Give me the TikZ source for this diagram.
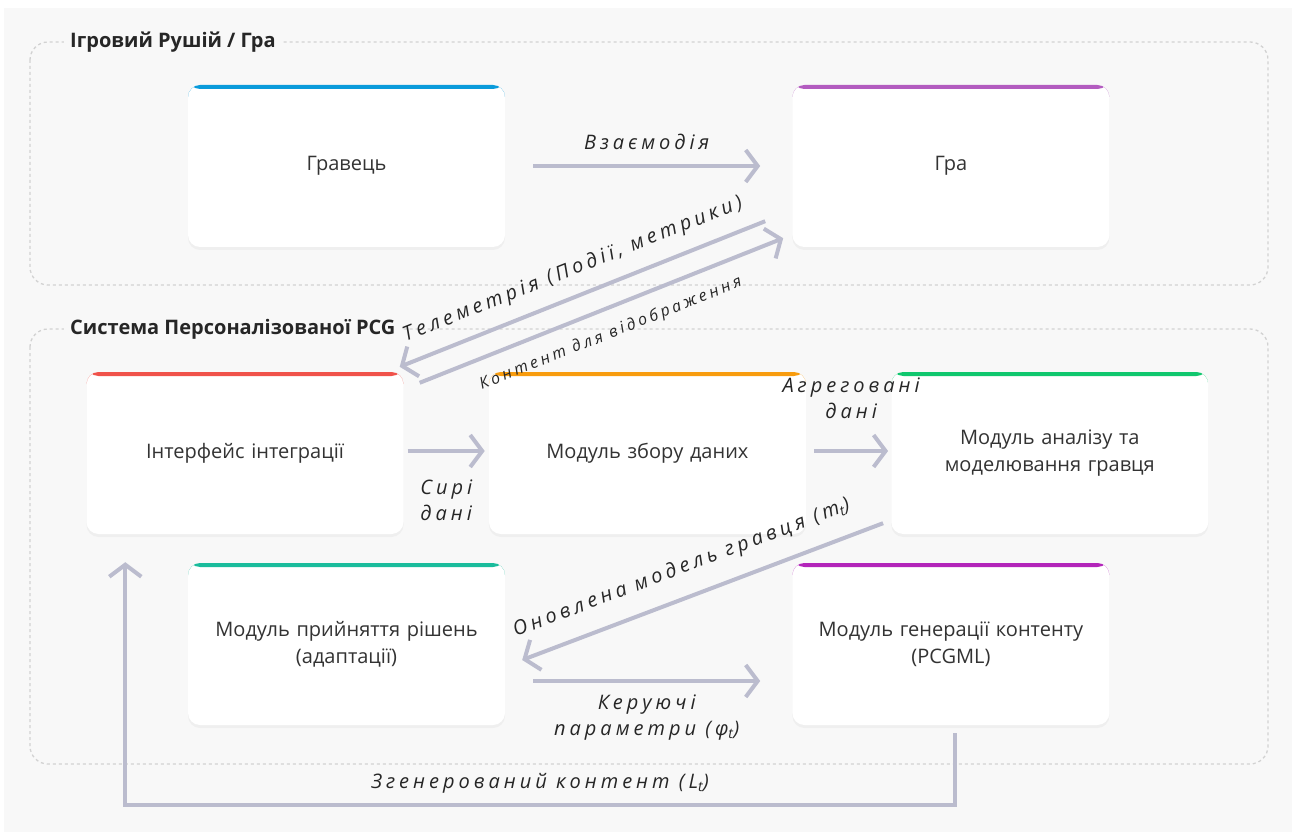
\documentclass[tikz,border=0pt]{standalone}
\usepackage{fontspec}
\setmainfont{Open Sans}
\newfontfamily\flowfont[LetterSpace=20]{Open Sans}
\usetikzlibrary{positioning,calc,arrows.meta,shadows}

\definecolor{bgcol}{HTML}{F8F8F8}
\definecolor{framecol}{HTML}{D2D2D2}
\definecolor{flowcol}{HTML}{BBBCCE}
\definecolor{txtcol}{HTML}{333333}
\definecolor{barblue}{HTML}{0A9BDB}
\definecolor{barpurple}{HTML}{B35CC0}
\definecolor{barred}{HTML}{F0524A}
\definecolor{barorange}{HTML}{F89C0E}
\definecolor{bargreen}{HTML}{10C76E}
\definecolor{barteal}{HTML}{1ABC9C}
\definecolor{barmagenta}{HTML}{B325BA}

\begin{document}
\begin{tikzpicture}[
    x=1pt, y=-1pt,
    module/.style={rectangle, rounded corners=12pt, fill=white,
        minimum width=317pt, minimum height=162pt, text width=290pt, align=center,
        font=\fontsize{20}{27}\selectfont, text=txtcol,
        drop shadow={opacity=0.07, shadow xshift=0pt, shadow yshift=-3pt},
        path picture={\fill[#1] (path picture bounding box.north west) rectangle ([yshift=-4pt]path picture bounding box.north east);}},
    cluster/.style={draw=framecol, dashed, line width=1.3pt, rounded corners=18pt},
    clustertitle/.style={anchor=west, fill=bgcol, inner xsep=6pt, font=\fontsize{20}{24}\selectfont\bfseries, text=black!85},
    flow/.style={draw=flowcol, line width=4pt, -{Straight Barb[length=12pt, width=32pt]}},
    flowlabel/.style={font=\fontsize{20}{26}\selectfont\flowfont\itshape, text=black!85, inner sep=0pt, align=center}
]

% Canvas
\fill[white] (0,0) rectangle (1296,834);
\fill[bgcol] (4,8) rectangle (1292,832);
\useasboundingbox (0,0) rectangle (1296,834);

% Clusters
\draw[cluster] (30,42) rectangle (1268,285);
\draw[cluster] (30,329) rectangle (1268,764);
\node[clustertitle] (enginetitle) at (64,42) {Ігровий Рушій / Гра};
\node[clustertitle] (pcgtitle) at (64,329) {Система Персоналізованої PCG};

% Game engine
\node[module=barblue] (player) at (346.5,166) {Гравець};
\node[module=barpurple, right=287pt of player] (game) {Гра};

% PCG system
\node[module=barred] (bridge) at (245,453) {Інтерфейс інтеграції};
\node[module=barorange, right=85pt of bridge] (collector) {Модуль збору даних};
\node[module=bargreen, right=85pt of collector] (analyzer) {Модуль аналізу та\\моделювання гравця};
\node[module=barteal] (decider) at (346.5,644) {Модуль прийняття рішень\\(адаптації)};
\node[module=barmagenta, right=287pt of decider] (generator) {Модуль генерації контенту\\(PCGML)};

% Arrows
\draw[flow] ([xshift=28pt]player.east) -- node[flowlabel, midway, above=14pt] {Взаємодія} ([xshift=-32pt]game.west);
\draw[flow] ([xshift=-27pt, yshift=26pt]game.south west) -- node[flowlabel, sloped, midway, above=14pt] {Телеметрія (Події, метрики)} ([xshift=-4pt, yshift=5pt]bridge.north east);
\draw[flow] ([xshift=16pt, yshift=-11pt]bridge.north east) -- node[flowlabel, font=\fontsize{16}{20}\selectfont\flowfont\itshape, sloped, midway, below=15pt] {Контент для відображення} ([xshift=-9pt, yshift=9pt]game.south west);
\draw[flow] ([xshift=4pt, yshift=2pt]bridge.east) -- node[flowlabel, midway, below=27pt] {Сирі\\дані} ([xshift=-4pt, yshift=2pt]collector.west);
\draw[flow] ([xshift=8pt, yshift=2pt]collector.east) -- node[flowlabel, midway, above=30pt] {Агреговані\\дані} ([xshift=-3pt, yshift=2pt]analyzer.west);
\draw[flow] ([xshift=-8pt, yshift=11pt]analyzer.south west) -- node[flowlabel, sloped, pos=0.53, above=17pt] {Оновлена модель гравця (m\textsubscript{t})} ([xshift=17pt, yshift=-16pt]decider.east);
\draw[flow] ([xshift=28pt, yshift=-37pt]decider.east) -- node[flowlabel, midway, below=12pt] {Керуючі\\параметри (φ\textsubscript{t})} ([xshift=-32pt, yshift=-37pt]generator.west);
\draw[flow] ([xshift=4pt, yshift=-8pt]generator.south) -- ++(0,72) -| node[flowlabel, pos=0.25, above=10pt] {Згенерований контент (L\textsubscript{t})} ([xshift=39pt, yshift=-28pt]bridge.south west);

\end{tikzpicture}
\end{document}
